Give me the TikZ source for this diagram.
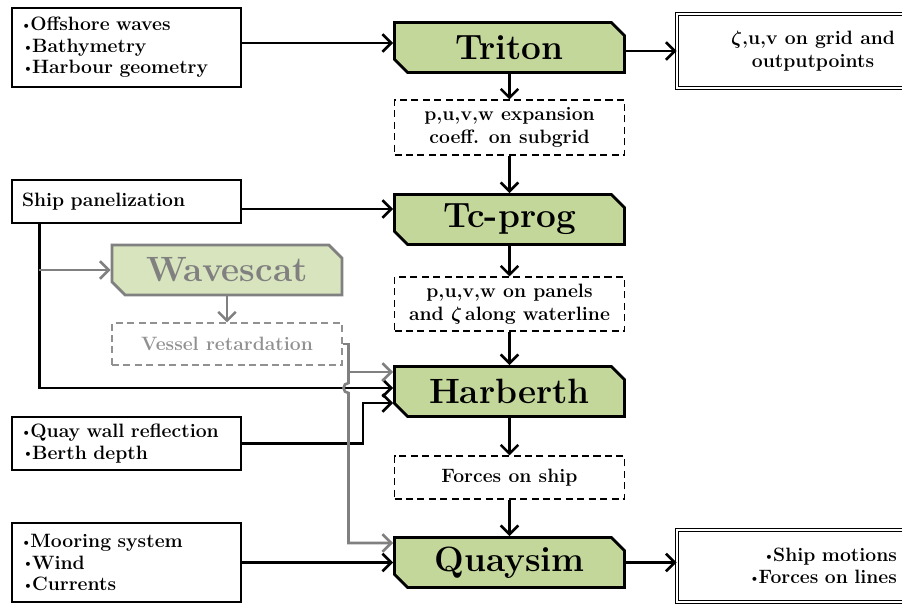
\documentclass[tikz,border=0pt]{standalone}
\usepackage{amsmath, amssymb}
\usepackage{xcolor}
\usepackage{tikz}
\usetikzlibrary{
arrows.meta,
positioning,
shapes.misc,
calc
}
\definecolor{qsgreen}{RGB}{196,215,155}
\definecolor{qslight}{RGB}{215,228,189}
\definecolor{qsgray}{RGB}{128,128,128}
\definecolor{qsgrey}{RGB}{145,145,145}
\newcommand{\bul}{\kern-1pt\raisebox{0.15ex}{\scalebox{0.7}{\textbullet}}\kern-1pt}

\begin{document}
\begin{tikzpicture}[
  x=0.02cm, y=-0.02cm,
  >={Straight Barb[length=5pt,width=10pt]},
  prog/.style={chamfered rectangle, chamfered rectangle corners={north east,south west},
    chamfered rectangle xsep=0.16cm, draw, line width=1.6pt, fill=qsgreen,
    minimum width=4.6cm, minimum height=1.0cm, inner sep=0pt,
    font=\fontsize{20}{24}\selectfont\bfseries},
  inbox/.style={draw, line width=0.6pt, text width=4.18cm, inner xsep=0.2cm, align=left,
    font=\fontsize{11}{13.3}\selectfont\bfseries},
  databox/.style={draw, dash pattern=on 4pt off 2.5pt, line width=0.6pt, minimum width=4.6cm,
    inner sep=0pt, align=center, font=\fontsize{11}{13.3}\selectfont\bfseries\boldmath},
  outbox/.style={draw, double, double distance=1.3pt, line width=0.5pt, minimum width=5.44cm,
    inner sep=0pt, font=\fontsize{11}{13.3}\selectfont\bfseries\boldmath},
  flow/.style={->, line width=1.5pt},
  grayflow/.style={->, line width=1.5pt, qsgray}
]
\useasboundingbox (0,0) rectangle (902,603);
\clip (0,0) rectangle (902,603);

% Inputs
\node[inbox, minimum height=1.58cm] (waves) at (126.5,47.5) {\bul Offshore waves\\\bul Bathymetry\\\bul Harbour geometry};
\node[inbox, minimum height=0.86cm] (ship) at (126.5,201.5) {Ship panelization};
\node[inbox, minimum height=1.06cm] (quay) at (126.5,443.5) {\bul Quay wall reflection\\\bul Berth depth};
\node[inbox, minimum height=1.58cm] (moor) at (126.5,562.5) {\bul Mooring system\\\bul Wind\\\bul Currents};

% Programs
\node[prog] (triton) at (509.5,47.5) {Triton};
\node[prog] (tcprog) at (509.5,219.5) {Tc-prog};
\node[prog] (harberth) at (509.5,391.5) {Harberth};
\node[prog] (quaysim) at (509.5,562.5) {Quaysim};
\node[prog, fill=qslight, draw=qsgray, text=qsgray] (wavescat) at (227,270) {Wavescat};

% Data passed on
\node[databox, minimum height=1.1cm] (coef) at (509.5,127.5) {p,u,v,w expansion\\coeff. on subgrid};
\node[databox, minimum height=1.08cm] (panels) at (509.5,304) {p,u,v,w on panels\\and $\zeta$\,along waterline};
\node[databox, minimum height=0.86cm] (forces) at (509.5,477.5) {Forces on ship};
\node[databox, draw=qsgrey, text=qsgrey, minimum height=0.84cm] (vessel) at (227,344) {Vessel retardation};

% Outputs
\node[outbox, minimum height=1.48cm, align=center] (grid) at (813,51) {$\zeta$,u,v on grid and\\outputpoints};
\node[outbox, minimum height=1.44cm, align=right, text width=3.36cm] (motions) at (813,566) {\bul Ship motions\\\bul Forces on lines};

% Main chain
\draw[flow] ([yshift=0.09cm]waves.east) -- ([yshift=0.09cm]triton.west);
\draw[flow] (triton.east |- grid.west) -- (grid.west);
\draw[flow] (triton.south) -- (coef.north);
\draw[flow] (coef.south) -- (tcprog.north);
\draw[flow] ([yshift=-0.15cm]ship.east) -- ([yshift=-0.15cm]ship.east -| tcprog.west);
\draw[flow] (tcprog.south) -- (panels.north);
\draw[flow] (panels.south) -- (harberth.north);
\draw[flow] (harberth.south) -- (forces.north);
\draw[flow] (forces.south) -- (quaysim.north);
\draw[flow] (moor.east) -- (quaysim.west);
\draw[flow] (quaysim.east) -- (motions.west |- quaysim.east);

% Ship panelization and quay to Harberth
\coordinate (blk) at ([yshift=0.07cm]harberth.west);
\draw[flow] ([xshift=0.56cm]ship.south west) |- (blk);
\draw[flow] (quay.east) -| ([xshift=-0.6cm,yshift=-0.23cm]harberth.west) -- ([yshift=-0.23cm]harberth.west);

% Wavescat branch
\draw[grayflow] ([xshift=0.56cm]ship.south west |- wavescat.west) -- (wavescat.west);
\draw[grayflow] (wavescat.south) -- (vessel.north);
\coordinate (retx) at ($(vessel.east)+(6,0)$);
\draw[grayflow] (vessel.east) -- (retx) |- ([yshift=0.39cm]harberth.west);
\draw[grayflow] (retx) -- ([yshift=0.1cm]retx |- blk) arc[start angle=90, end angle=270, radius=0.1cm] |- ([yshift=0.39cm]quaysim.west);

\end{tikzpicture}
\end{document}
